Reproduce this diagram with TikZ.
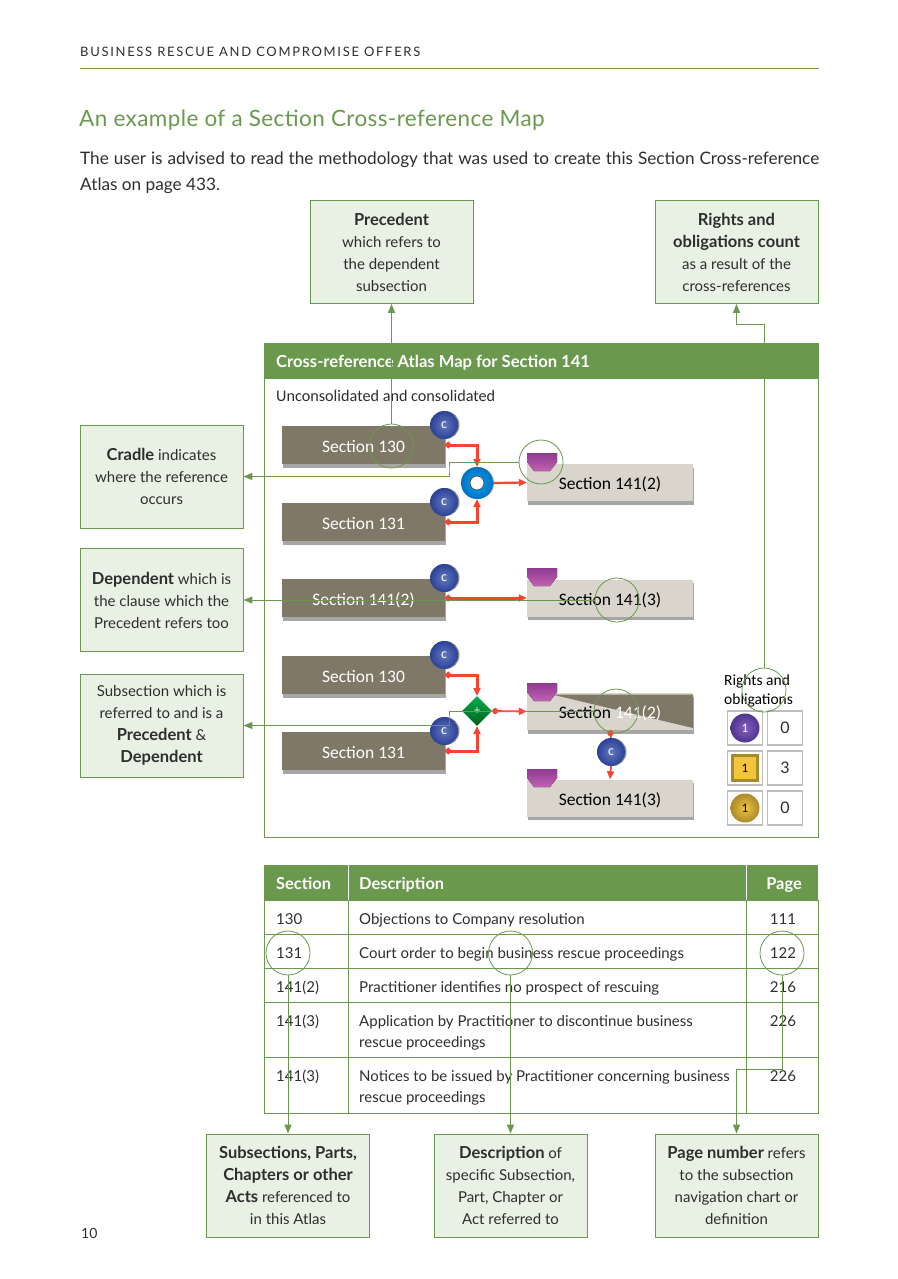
\documentclass[tikz,border=0pt]{standalone}
\usepackage{fontspec}
\setmainfont{Lato}
\newfontfamily\calfont{Carlito}
\usepackage{xcolor}
\usetikzlibrary{arrows.meta,shadows,shapes.geometric}
\definecolor{leafgreen}{HTML}{6A994E}
\definecolor{palegreen}{HTML}{E9F0E4}
\definecolor{brownbox}{HTML}{7F7867}
\definecolor{greybox}{HTML}{D9D5CC}
\definecolor{inkgrey}{HTML}{2E2E2E}
\definecolor{redline}{HTML}{F8432F}
\definecolor{cblue}{HTML}{2F49A8}
\definecolor{legendgrey}{HTML}{BDBDBD}
\definecolor{cradletop}{HTML}{8F3A92}
\definecolor{cradlelow}{HTML}{C062B2}
\definecolor{goldfill}{HTML}{F2C53A}
\definecolor{goldedge}{HTML}{A98A2C}
\definecolor{violetlight}{HTML}{8460BC}
\definecolor{violetdark}{HTML}{4E3590}
\newcommand{\keyword}[1]{{\bfseries\fontsize{16.5}{22}\selectfont #1}}
\tikzset{cradle/.pic={
\fill [top color=cradletop, bottom color=cradlelow] (0,0) -- (30,0) -- (30,9) -- (23,18) -- (7,18) -- (0,9) -- cycle;
}}
\begin{document}
\begin{tikzpicture}[x=1pt,y=-1pt]
\tikzstyle{every node}+=[inner sep=0pt]
\tikzstyle{notebox}=[draw=leafgreen,fill=palegreen,line width=0.8pt,minimum width=163pt,minimum height=103pt,align=center,text=inkgrey,font=\fontsize{15}{22}\selectfont,execute at begin node={\rule{0pt}{17pt}}]
\tikzstyle{darkbox}=[fill=brownbox,minimum width=163pt,minimum height=38pt,text=white,text height=17pt,text depth=3pt,font=\calfont\fontsize{17.5}{20}\selectfont,drop shadow={shadow xshift=0.5pt,shadow yshift=-3.5pt,opacity=0.7}]
\tikzstyle{lightbox}=[fill=greybox,minimum width=166pt,minimum height=37pt,text=black,text height=17pt,text depth=3pt,font=\calfont\fontsize{17.5}{20}\selectfont,drop shadow={shadow xshift=0.5pt,shadow yshift=-3.5pt,opacity=0.7}]
\tikzstyle{cball}=[circle,minimum size=28pt,inner color=cblue!75!white,outer color=cblue!90!black,text=white,font=\calfont\fontsize{14}{14}\selectfont,drop shadow={shadow xshift=1.5pt,shadow yshift=0pt,opacity=0.9}]
\tikzstyle{ring}=[circle,draw=leafgreen,line width=0.8pt,minimum size=44pt]
\tikzstyle{leader}=[draw=leafgreen,line width=0.9pt,-{Triangle[length=9pt,width=7pt]}]
\tikzstyle{redjoin}=[draw=redline,line width=3pt,{Circle[length=6pt]}-{Triangle[length=8pt,width=7pt]}]
\tikzstyle{legendcell}=[draw=legendgrey,line width=1.4pt,minimum width=35pt,minimum height=34pt,text=inkgrey,font=\fontsize{16}{20}\selectfont]
\tikzstyle{tabtext}=[text=inkgrey,font=\fontsize{15}{21}\selectfont]
\useasboundingbox (0,0) rectangle (897,1279);
% page head
\node [anchor=base west,text=inkgrey,font=\fontsize{13}{15}\selectfont\addfontfeatures{LetterSpace=13}] (runhead) at (80,57) {BUSINESS RESCUE AND COMPROMISE OFFERS};
\draw [leafgreen,line width=0.8pt] (80,68) -- (819,68);
\node [anchor=base west,text=leafgreen,font=\fontsize{22.5}{26}\selectfont\addfontfeatures{LetterSpace=1.8}] (title) at (79,127) {An example of a Section Cross-reference Map};
\node [anchor=north west,text width=739pt,align=justify,text=inkgrey,font=\fontsize{17.2}{26}\selectfont] (intro) at (80,152) {The user is advised to read the methodology that was used to create this Section Cross-reference Atlas on page 433.};
% map frame
\node [draw=leafgreen,line width=0.8pt,minimum width=554pt,minimum height=494pt] (mapframe) at (541,590) {};
\node [fill=leafgreen,minimum width=555pt,minimum height=35pt] (maphead) at (541,361) {};
\node [anchor=west,text=white,font=\bfseries\fontsize{16.6}{18}\selectfont] (maptitle) at (276,362.5) {Cross-reference Atlas Map for Section 141};
\node [anchor=west,text=inkgrey,font=\calfont\fontsize{16.2}{20}\selectfont] (mapsub) at (276,396) {Unconsolidated and consolidated};
% section boxes
\node [darkbox] (secA) at (363.5,445) {Section 130};
\node [darkbox] (secB) at (363.5,522) {Section 131};
\node [darkbox] (secC) at (363.5,598) {Section 141(2)};
\node [darkbox] (secD) at (363.5,675) {Section 130};
\node [darkbox] (secE) at (363.5,751) {Section 131};
\node [lightbox] (destA) at (610,482.5) {Section 141(2)};
\node [lightbox] (destB) at (610,598) {Section 141(3)};
\node [lightbox] (destC) at (610,711.5) {};
\fill [brownbox] (552,694.5) -- (693,694.5) -- (693,728) -- cycle;
\node [text=black,text height=17pt,text depth=3pt,font=\calfont\fontsize{17.5}{20}\selectfont] (destCtext) at (610,711) {Section {\color{white}141(2)}};
\node [lightbox] (destD) at (610,798) {Section 141(3)};
\pic (crA) at (527,453) {cradle};
\pic (crB) at (527,568) {cradle};
\pic (crC) at (527,683) {cradle};
\pic (crD) at (527,769) {cradle};
% joins
\draw [redjoin] (secA.east) -| (477,467);
\draw [redjoin] (secB.east) -| (477,499);
\draw [redjoin] (secC.east) -- (destB.west);
\draw [redjoin] (secD.east) -| (477,696);
\draw [redjoin] (secE.east) -| (477,726);
\node [circle,minimum size=32pt,inner color=cyan!65!blue,outer color=cyan!60!blue!75!black,drop shadow={shadow xshift=1pt,shadow yshift=0pt,opacity=0.8}] (torus) at (477,483) {};
\node [circle,draw=black!70,line width=0.8pt,fill=white,minimum size=14pt] (torushole) at (477,483) {};
\node [diamond,minimum size=30pt,top color=green!55!black!70!cyan,bottom color=green!30!black!90!cyan,text=green!20!white,font=\fontsize{12}{12}\selectfont] (plus) at (477,711) {+};
\node [cball] (cA) at (444,425) {c};
\node [cball] (cB) at (444,502) {c};
\node [cball] (cC) at (444,578) {c};
\node [cball] (cD) at (444,655) {c};
\node [cball] (cE) at (444,731) {c};
\node [cball] (cF) at (611,752) {c};
\draw [redjoin,line width=2.2pt,{Circle[length=0pt]}-{Triangle[length=8pt,width=7pt]}] (torus.east) -- (destA.west);
\draw [redjoin,line width=1.8pt] (plus.east) -- (destC.west);
\draw [draw=redline,line width=1.8pt,-{Circle[length=6pt]}] (cF.north) -- (destC.south);
\draw [draw=redline,line width=1.8pt,-{Triangle[length=8pt,width=7pt]}] (cF.south) -- (destD.north);
% legend
\node [anchor=base west,text=black,font=\calfont\fontsize{15.5}{19}\selectfont] (rightsA) at (724,685) {Rights and};
\node [anchor=base west,text=black,font=\calfont\fontsize{15.5}{19}\selectfont] (rightsB) at (724,704) {obligations};
\node [legendcell] (iconA) at (745,728) {};
\node [legendcell] (iconB) at (745,768) {};
\node [legendcell] (iconC) at (745,808) {};
\node [legendcell] (countA) at (785,728) {0};
\node [legendcell] (countB) at (785,768) {3};
\node [legendcell] (countC) at (785,808) {0};
\node [circle,minimum size=29pt,inner color=violetlight,outer color=violetdark,text=white,font=\calfont\fontsize{13}{13}\selectfont] (ballA) at (745,728) {1};
\node [draw=goldedge,line width=3pt,fill=goldfill,minimum size=25pt,text=black,font=\calfont\fontsize{13}{13}\selectfont] (ballB) at (745,768) {1};
\node [circle,minimum size=29pt,inner color=goldfill,outer color=goldedge,text=black,font=\calfont\fontsize{13}{13}\selectfont] (ballC) at (745,808) {1};
% table
\fill [leafgreen] (264,865) rectangle (818,900);
\draw [white,line width=0.9pt] (348,865) -- (348,900);
\draw [white,line width=0.9pt] (746,865) -- (746,900);
\draw [leafgreen,line width=0.8pt] (264,900) rectangle (818,1113);
\draw [leafgreen,line width=0.8pt] (348,900) -- (348,1113);
\draw [leafgreen,line width=0.8pt] (746,900) -- (746,1113);
\foreach \y in {934,968,1002,1057}
\draw [leafgreen,line width=0.8pt] (264,\y) -- (818,\y);
\node [anchor=base west,text=white,font=\bfseries\fontsize{16.4}{18}\selectfont] (thsec) at (276,889) {Section};
\node [anchor=base west,text=white,font=\bfseries\fontsize{16.4}{18}\selectfont] (thdesc) at (359,889) {Description};
\node [anchor=base,text=white,font=\bfseries\fontsize{16.4}{18}\selectfont] (thpage) at (784,889) {Page};
\foreach \y/\sec/\pg [count=\i] in {924/130/111,958/131/122,992/141(2)/216,1026/141(3)/226,1081/141(3)/226} {
\node [tabtext,anchor=base west] (sec\i) at (276,\y) {\sec};
\node [tabtext,anchor=base] (pg\i) at (783,\y) {\pg};
}
\node [tabtext,anchor=base west] (descA) at (359,924) {Objections to Company resolution};
\node [tabtext,anchor=base west] (descB) at (359,958) {Court order to begin business rescue proceedings};
\node [tabtext,anchor=base west] (descC) at (359,992) {Practitioner identifies no prospect of rescuing};
\node [tabtext,anchor=north west,align=left] (descD) at (359,1015) {Application by Practitioner to discontinue business\\rescue proceedings};
\node [tabtext,anchor=north west,align=left] (descE) at (359,1070) {Notices to be issued by Practitioner concerning business\\rescue proceedings};
% notes
\node [notebox] (notePrec) at (391.5,252) {\keyword{Precedent}\\which refers to\\the dependent\\subsection};
\node [notebox] (noteRights) at (736.5,252) {\keyword{Rights and}\\\keyword{obligations count}\\as a result of the\\cross-references};
\node [notebox] (noteCradle) at (161.5,476.5) {\keyword{Cradle} indicates\\where the reference\\occurs};
\node [notebox] (noteDep) at (161.5,600) {\keyword{Dependent} which is\\the clause which the\\Precedent refers too};
\node [notebox] (noteSub) at (161.5,725.5) {Subsection which is\\referred to and is a\\\keyword{Precedent} \&\\\keyword{Dependent}};
\node [notebox] (noteSec) at (288,1185.5) {\keyword{Subsections, Parts,}\\\keyword{Chapters or other}\\\keyword{Acts} referenced to\\in this Atlas};
\node [notebox,minimum width=153pt] (noteDesc) at (510.5,1185.5) {\keyword{Description} of\\specific Subsection,\\Part, Chapter or\\Act referred to};
\node [notebox] (notePage) at (736.5,1185.5) {\keyword{Page number} refers\\to the subsection\\navigation chart or\\definition};
% rings and leaders
\node [ring] (ringA) at (391.5,446) {};
\node [ring] (ringB) at (541,462) {};
\node [ring] (ringC) at (617,600) {};
\node [ring] (ringD) at (616,711) {};
\node [ring] (ringE) at (764,690) {};
\node [ring] (ringF) at (288,953) {};
\node [ring] (ringG) at (510.5,953) {};
\node [ring] (ringH) at (782,953) {};
\coordinate (bendB) at (449,470);
\coordinate (bendD) at (449,718);
\coordinate (bendE) at (764,324);
\coordinate (bendH) at (736.5,1069);
\draw [leader] (ringA.north) -- (notePrec.south);
\draw [leader] (ringE.north) -- (bendE) -| (noteRights.south);
\draw [leader] (ringB.west) -| (bendB) |- (noteCradle.east);
\draw [leader] (ringC.west) -- (noteDep.east);
\draw [leader] (ringD.west) -| (bendD) |- (noteSub.east);
\draw [leader] (ringF.south) -- (noteSec.north);
\draw [leader] (ringG.south) -- (noteDesc.north);
\draw [leader] (ringH.south) |- (bendH) -- (notePage.north);
\node [anchor=base west,text=inkgrey,font=\fontsize{14}{16}\selectfont] (folio) at (81,1238) {10};
\end{tikzpicture}
\end{document}
